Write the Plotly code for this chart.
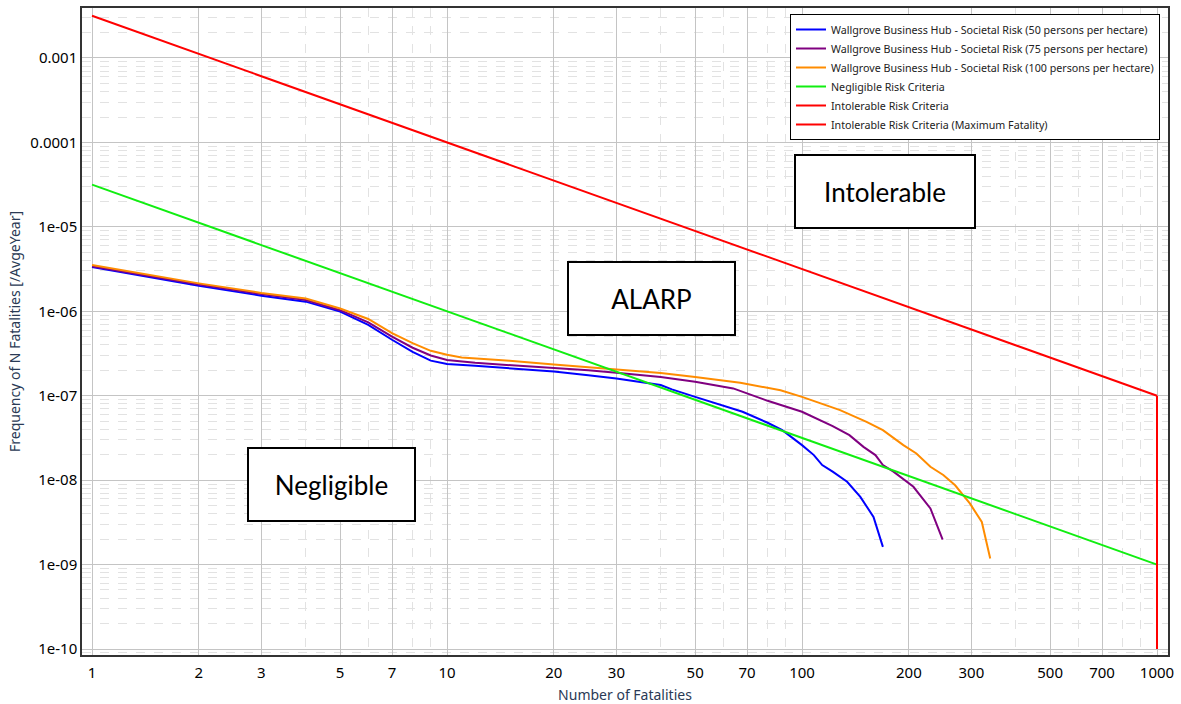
import numpy as np
import plotly.graph_objects as go

# ---- data ----
blue_N = [1, 2, 3, 4, 5, 6, 7, 8, 9, 10, 12, 15, 20, 25, 30, 40, 43, 50, 68, 80, 88,
          100, 108, 114, 122, 134, 146, 159, 169]
blue_F = [3.34e-6, 2.0e-6, 1.53e-6, 1.30e-6, 9.9e-7, 6.9e-7, 4.6e-7, 3.3e-7, 2.6e-7,
          2.37e-7, 2.27e-7, 2.12e-7, 1.93e-7, 1.75e-7, 1.6e-7, 1.34e-7, 1.19e-7, 9.7e-8,
          6.45e-8, 4.78e-8, 3.91e-8, 2.6e-8, 1.98e-8, 1.51e-8, 1.26e-8, 9.56e-9,
          6.34e-9, 3.67e-9, 1.62e-9]

purple_N = [1, 2, 3, 4, 5, 6, 7, 8, 9, 10, 12, 15, 20, 25, 30, 40, 50, 64, 80, 100,
            122, 136, 149, 161, 169, 181, 206, 230, 249]
purple_F = [3.42e-6, 2.07e-6, 1.6e-6, 1.36e-6, 1.03e-6, 7.4e-7, 5.0e-7, 3.7e-7, 3.0e-7,
            2.65e-7, 2.45e-7, 2.3e-7, 2.16e-7, 2.0e-7, 1.87e-7, 1.67e-7, 1.46e-7,
            1.22e-7, 8.7e-8, 6.45e-8, 4.36e-8, 3.41e-8, 2.48e-8, 1.98e-8, 1.51e-8,
            1.26e-8, 8.34e-9, 4.62e-9, 1.98e-9]

orange_N = [1, 2, 3, 4, 5, 6, 7, 8, 9, 10, 11, 15, 20, 25, 30, 40, 50, 67, 87, 100,
            128, 152, 169, 193, 210, 230, 250, 270, 297, 321, 339]
orange_F = [3.53e-6, 2.14e-6, 1.65e-6, 1.42e-6, 1.08e-6, 8.1e-7, 5.5e-7, 4.2e-7, 3.4e-7,
            3.05e-7, 2.84e-7, 2.6e-7, 2.34e-7, 2.17e-7, 2.05e-7, 1.86e-7, 1.67e-7,
            1.42e-7, 1.16e-7, 9.7e-8, 6.76e-8, 4.91e-8, 3.91e-8, 2.6e-8, 2.07e-8,
            1.44e-8, 1.15e-8, 8.7e-9, 5.3e-9, 3.2e-9, 1.18e-9]

negligible_N = [1, 1000]
negligible_F = [3.16e-5, 1e-9]
intolerable_N = [1, 1000]
intolerable_F = [3.16e-3, 1e-7]
maxfat_N = [1000, 1000]
maxfat_F = [1e-7, 1e-10]

x_ticks = [1, 2, 3, 5, 7, 10, 20, 30, 50, 70, 100, 200, 300, 500, 700, 1000]
x_minor = [4, 6, 8, 9, 40, 60, 80, 90, 400, 600, 800, 900]
y_ticks = [1e-10, 1e-9, 1e-8, 1e-7, 1e-6, 1e-5, 1e-4, 1e-3]
y_ticklabels = ["1e-10", "1e-09", "1e-08", "1e-07", "1e-06", "1e-05", "0.0001", "0.001"]
y_minor = [m * 10.0 ** e for e in range(-11, -2) for m in range(2, 10)]

series = [
    ("Wallgrove Business Hub - Societal Risk (50 persons per hectare)", blue_N, blue_F, "#0000FF"),
    ("Wallgrove Business Hub - Societal Risk (75 persons per hectare)", purple_N, purple_F, "#800080"),
    ("Wallgrove Business Hub - Societal Risk (100 persons per hectare)", orange_N, orange_F, "#FF8C00"),
    ("Negligible Risk Criteria", negligible_N, negligible_F, "#11EE11"),
    ("Intolerable Risk Criteria", intolerable_N, intolerable_F, "#FF0000"),
    ("Intolerable Risk Criteria (Maximum Fatality)", maxfat_N, maxfat_F, "#FF0000"),
]

fig = go.Figure()
for name, xs, ys, col in series:
    fig.add_trace(go.Scatter(x=xs, y=ys, mode="lines", name=name,
                             line=dict(color=col, width=2)))

W, H = 1181, 704
# plot area in page pixels: x 82..1168, y 8..655
PL, PR, PT, PB = 82, 1168, 8, 655
L, T, R, B = PL, PT, W - PR, H - PB
pw, ph = PR - PL, PB - PT

def px(xp):
    return (xp - PL) / pw

def py(yp):
    return 1 - (yp - PT) / ph

boxes = [("Intolerable", 885, 191.5, 178, 71),
         ("ALARP", 651.5, 298.5, 165, 71),
         ("Negligible", 331.5, 484.5, 165, 71)]
for txt, cx, cy, bw, bh in boxes:
    fig.add_annotation(text=txt, x=px(cx), y=py(cy), xref="paper", yref="paper",
                       showarrow=False, xanchor="center", yanchor="middle",
                       width=bw, height=bh, bgcolor="white", bordercolor="black",
                       borderwidth=2, borderpad=0,
                       font=dict(family="Lato", size=26, color="black"))

grid_major = "#c4c4c4"
grid_minor = "#e2e2e2"
fig.update_xaxes(type="log", range=[-0.0282, 3.031], automargin=False,
                 tickvals=x_ticks, ticktext=[str(v) for v in x_ticks],
                 showgrid=True, gridcolor=grid_major, gridwidth=1,
                 minor=dict(tickvals=x_minor, showgrid=True, gridcolor=grid_minor,
                            griddash="dash", ticks=""),
                 showline=True, linecolor="#333333", linewidth=1.5, mirror=True,
                 ticks="", zeroline=False, ticklabelstandoff=3,
                 ticklabeloverflow="allow",
                 tickfont=dict(family="Noto Sans", size=15, color="black"),
                 title=dict(text="Number of Fatalities", standoff=15,
                            font=dict(family="Noto Sans", size=14, color="#2a3a55")))
fig.update_yaxes(type="log", range=[-10.071, -2.408], automargin=False,
                 tickvals=y_ticks, ticktext=y_ticklabels,
                 showgrid=True, gridcolor=grid_major, gridwidth=1,
                 minor=dict(tickvals=y_minor, showgrid=True, gridcolor=grid_minor,
                            griddash="dash", ticks=""),
                 showline=True, linecolor="#333333", linewidth=1.5, mirror=True,
                 ticks="", zeroline=False, ticklabeloverflow="allow",
                 tickfont=dict(family="Noto Sans", size=15, color="black"),
                 title=dict(text="Frequency of N Fatalities [/AvgeYear]", standoff=6,
                            font=dict(family="Noto Sans", size=14, color="#2a3a55")))

fig.update_layout(
    width=W, height=H,
    margin=dict(l=L, r=R, t=T, b=B, autoexpand=False),
    paper_bgcolor="white", plot_bgcolor="white",
    showlegend=True,
    legend=dict(x=px(1160), y=py(14), xanchor="right", yanchor="top",
                bgcolor="white", bordercolor="black", borderwidth=1,
                font=dict(family="Noto Sans", size=10.7, color="#222222"),
                tracegroupgap=0, itemwidth=30),
)

fig.write_html("out.html", config={"displayModeBar": False},
               post_script="document.body.style.margin='0';document.body.style.overflow='hidden';")
